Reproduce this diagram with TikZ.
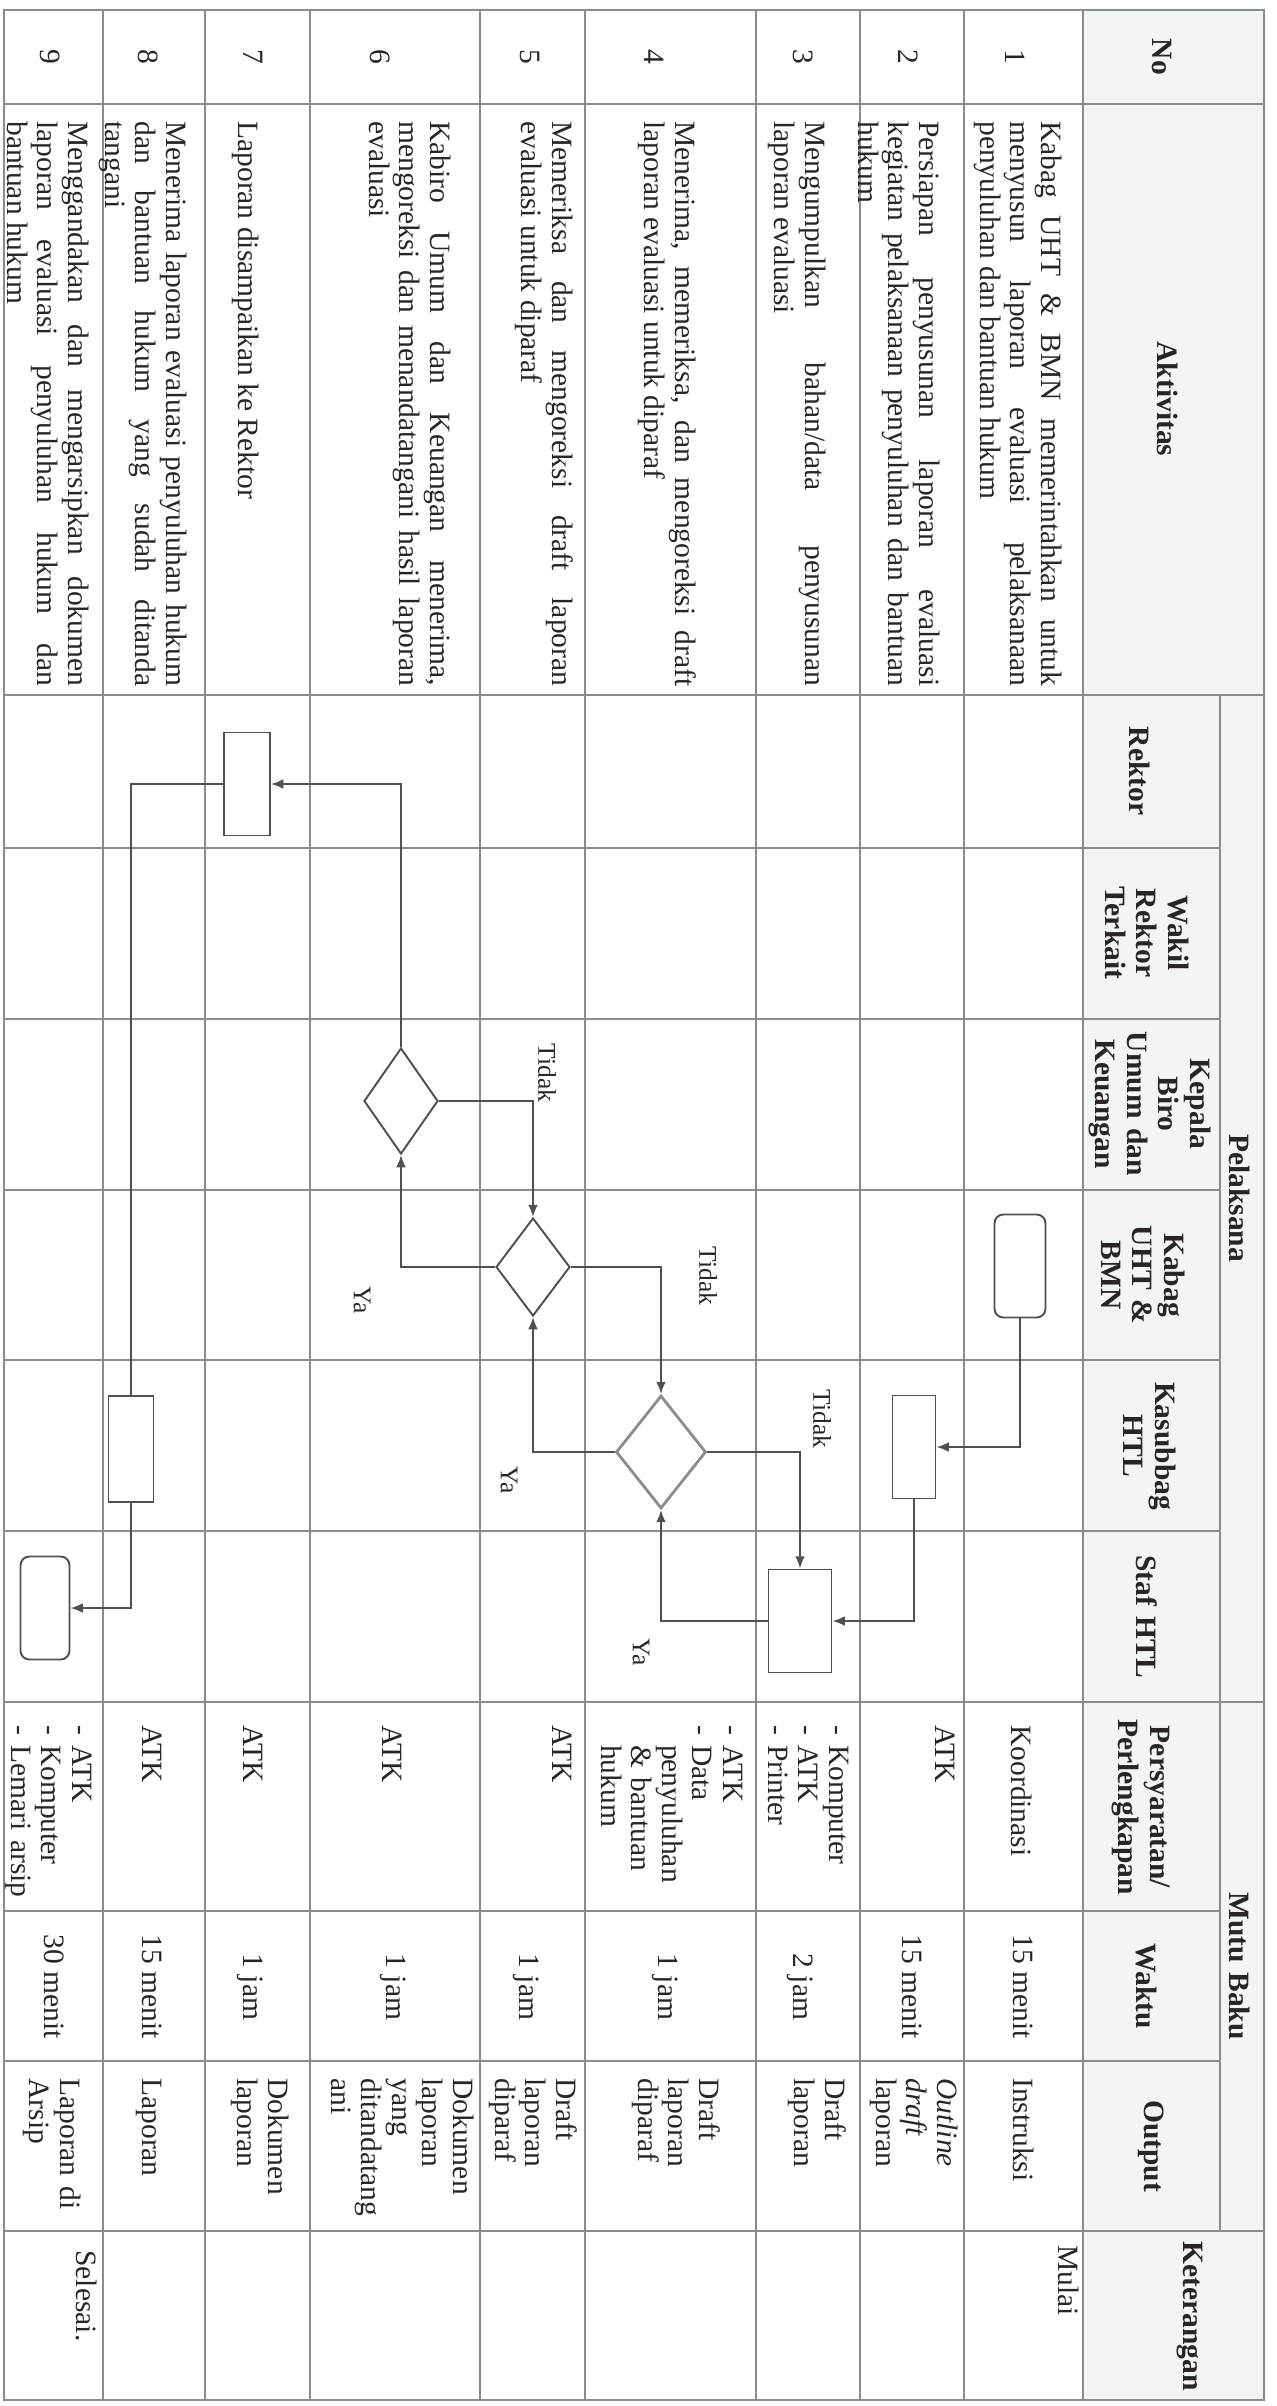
\documentclass[tikz,border=0pt]{standalone}
\usepackage{fontspec}
\setmainfont{Liberation Serif}
\usetikzlibrary{shapes.geometric,arrows.meta}

\definecolor{headfill}{RGB}{242,246,243}
\definecolor{gridgray}{RGB}{140,140,140}
\definecolor{flowgray}{RGB}{80,80,80}
\definecolor{inkgray}{RGB}{38,38,38}
\newcommand{\cellfont}{\fontsize{16.8}{17.3}\selectfont\hyphenpenalty=10000 \tolerance=10000 }
\newcommand{\headfont}{\fontsize{16.8}{18}\selectfont\bfseries}
\newcommand{\labfont}{\fontsize{14.5}{16}\selectfont}

\begin{document}
\begin{tikzpicture}[x=0.02cm,y=0.02cm,rotate=-90,transform shape,
        every node/.style={inner sep=0pt,text=inkgray},
        cell/.style={anchor=base west,font=\cellfont,text width=4cm,align=left},
        act/.style={cell,text width=11.3cm,align=justify},
        waktu/.style={anchor=base,font=\cellfont},
        head/.style={font=\headfont,align=center,text width=4cm},
        lab/.style={font=\labfont},
        grid/.style={draw=gridgray,line width=0.8pt},
        flow/.style={draw=flowgray,line width=1.1pt},
        arr/.style={flow,-{Latex[length=7pt,width=5.5pt]}},
        proc/.style={draw=flowgray,line width=1.1pt,minimum width=2.06cm,minimum height=0.9cm},
        term/.style={proc,rounded corners=5pt,minimum height=1.02cm},
        decision/.style={diamond,draw=flowgray,line width=1.1pt,inner sep=0pt}]

    \useasboundingbox (0,0) rectangle (2406,1276);

    % table
    \fill[headfill] (10,1083) rectangle (2400,1264);
    \draw[grid] (10,4) rectangle (2400,1264);
    \foreach \y in {103,205,310,480,585,756,860,964,1083}
        \draw[grid] (10,\y) -- (2400,\y);
    \draw[grid] (695,1220) -- (2231,1220);
    \foreach \x in {104,695,1702,2231}
        \draw[grid] (\x,4) -- (\x,1264);
    \foreach \x in {848,1019,1190,1360,1531,1911,2061}
        \draw[grid] (\x,4) -- (\x,1220);

    % header
    \node[head] (hNo)   at (57,1162)   {No};
    \node[head] (hAkt)  at (399,1168)  {Aktivitas};
    \node[head] (hPel)  at (1198,1240) {Pelaksana};
    \node[head] (hMutu) at (1966,1240) {Mutu Baku};
    \node[head] (hKet)  at (2316,1190) {Keterangan};
    \node[head] (hRek)  at (771,1140)  {Rektor};
    \node[head] (hWak)  at (933,1147)  {Wakil\\Rektor\\Terkait};
    \node[head] (hKep)  at (1104,1150) {Kepala\\Biro\\Umum dan\\Keuangan};
    \node[head] (hKab)  at (1275,1143) {Kabag\\UHT \&\\BMN};
    \node[head] (hSub)  at (1446,1150) {Kasubbag\\HTL};
    \node[head] (hStaf) at (1617,1147) {Staf HTL};
    \node[head] (hSyar) at (1807,1141) {Persyaratan/\\Perlengkapan};
    \node[head] (hWkt)  at (1986,1147) {Waktu};
    \node[head] (hOut)  at (2146,1151) {Output};

    % nomor
    \foreach \n/\y in {1/1005,2/898,3/793,4/644,5/520,6/370,7/243,8/138,9/40}
        \node[waktu] (no\n) at (57,\y) {\n};

    % aktivitas
    \node[act] (akt1) at (121,1041) {Kabag UHT \& BMN memerintahkan untuk\linebreak menyusun laporan evaluasi pelaksanaan\linebreak penyuluhan dan bantuan hukum};
    \node[act] (akt2) at (121,919) {Persiapan penyusunan laporan evaluasi\linebreak kegiatan pelaksanaan penyuluhan dan bantuan\linebreak hukum};
    \node[act] (akt3) at (121,805) {Mengumpulkan bahan/data penyusunan\linebreak laporan evaluasi};
    \node[act] (akt4) at (121,675) {Menerima, memeriksa, dan mengoreksi draft\linebreak laporan evaluasi untuk diparaf};
    \node[act] (akt5) at (121,552) {Memeriksa dan mengoreksi draft laporan\linebreak evaluasi untuk diparaf};
    \node[act] (akt6) at (121,430) {Kabiro Umum dan Keuangan menerima,\linebreak mengoreksi dan menandatangani hasil laporan\linebreak evaluasi};
    \node[act] (akt7) at (121,238) {Laporan disampaikan ke Rektor};
    \node[act] (akt8) at (121,166) {Menerima laporan evaluasi penyuluhan hukum\linebreak dan bantuan hukum yang sudah ditanda\linebreak tangani};
    \node[act] (akt9) at (121,68) {Menggandakan dan mengarsipkan dokumen\linebreak laporan evaluasi penyuluhan hukum dan\linebreak bantuan hukum};

    % persyaratan
    \node[cell] (syar1) at (1725,1011) {Koordinasi};
    \node[cell] (syar2) at (1725,935) {ATK};
    \node[cell] (syar3) at (1725,829) {- Komputer\\- ATK\\- Printer};
    \node[cell] (syar4) at (1725,723) {- ATK\\- Data\\\phantom{- }penyuluhan\\\phantom{- }\& bantuan\\\phantom{- }hukum};
    \node[cell] (syar5) at (1725,552) {ATK};
    \node[cell] (syar6) at (1725,382) {ATK};
    \node[cell] (syar7) at (1725,243) {ATK};
    \node[cell] (syar8) at (1725,142) {ATK};
    \node[cell] (syar9) at (1725,72) {- ATK\\- Komputer\\- Lemari arsip};

    % waktu
    \foreach \n/\y/\t in {1/1013/15 menit,2/902/15 menit,3/793/2 jam,4/658/1 jam,5/519/1 jam,
            6/386/1 jam,7/243/1 jam,8/142/15 menit,9/44/30 menit}
        \node[waktu] (wkt\n) at (1987,\y) {\t};

    % output
    \node[cell] (out1) at (2078,1013) {Instruksi};
    \node[cell] (out2) at (2078,937) {\textit{Outline}\\\textit{draft}\\laporan};
    \node[cell] (out3) at (2078,825) {Draft\\laporan};
    \node[cell] (out4) at (2078,699) {Draft\\laporan\\diparaf};
    \node[cell] (out5) at (2078,556) {Draft\\laporan\\diparaf};
    \node[cell] (out6) at (2078,453) {Dokumen\\laporan\\yang\\ditandatang\\ani};
    \node[cell] (out7) at (2078,268) {Dokumen\\laporan};
    \node[cell] (out8) at (2078,142) {Laporan};
    \node[cell] (out9) at (2078,60) {Laporan di\\Arsip};

    % keterangan
    \node[cell] (ket1) at (2245,1058) {Mulai};
    \node[cell] (ket9) at (2250,76) {Selesai.};

    % flowchart
    \node[term] (mulai) at (1266,1020) {};
    \node[proc,minimum height=0.86cm] (siap) at (1447,914) {};
    \node[proc,minimum height=1.26cm] (kumpul) at (1621,800) {};
    \node[decision,draw=gridgray,line width=1.6pt,minimum width=2.26cm,minimum height=1.8cm] (cekSub) at (1452,661) {};
    \node[decision,minimum width=1.96cm,minimum height=1.48cm] (cekKab) at (1267,533) {};
    \node[decision,minimum width=2.12cm,minimum height=1.48cm] (cekBiro) at (1101,401) {};
    \node[proc,minimum height=0.92cm] (rektor) at (784,247) {};
    \node[proc,minimum width=2.12cm] (terima) at (1449,131) {};
    \node[term,minimum height=0.98cm] (selesai) at (1608,45) {};

    \draw[arr] (mulai.east) -| (siap.north);
    \draw[arr] (siap.east) -| (kumpul.north);
    \draw[arr] (kumpul.south) |- (cekSub.east);
    \draw[arr] (cekSub.north) |- (kumpul.west);
    \draw[arr] (cekSub.south) |- (cekKab.east);
    \draw[arr] (cekKab.north) |- (cekSub.west);
    \draw[arr] (cekKab.south) |- (cekBiro.east);
    \draw[arr] (cekBiro.north) |- (cekKab.west);
    \draw[arr] (cekBiro.west) -| (rektor.north);
    \draw[flow] (rektor.south) |- (terima.west);
    \draw[arr] (terima.east) -| (selesai.north);

    \node[lab] (tidak1) at (1419,822) {Tidak};
    \node[lab] (ya1) at (1652,641) {Ya};
    \node[lab] (ya2) at (1480,509) {Ya};
    \node[lab] (tidak2) at (1276,708) {Tidak};
    \node[lab] (ya3) at (1300,362) {Ya};
    \node[lab] (tidak3) at (1073,547) {Tidak};
\end{tikzpicture}
\end{document}
